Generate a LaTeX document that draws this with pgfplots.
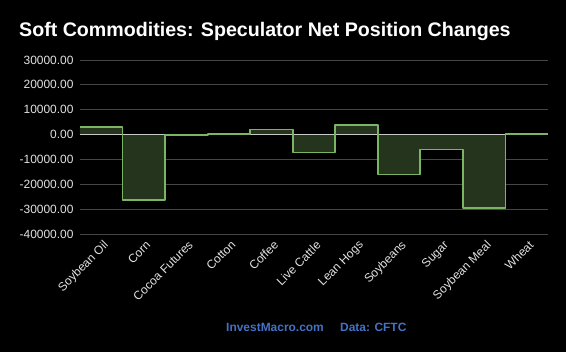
\documentclass[border=0pt]{standalone}
\usepackage{pgfplots}
\pgfplotsset{compat=1.18}
\usepackage{fontspec}
\setmainfont{Liberation Sans}
\definecolor{bgc}{RGB}{0,0,0}
\definecolor{gridc}{RGB}{70,70,70}
\definecolor{zeroc}{RGB}{200,200,200}
\definecolor{linec}{RGB}{122,180,100}
\definecolor{fillc}{RGB}{36,52,29}
\definecolor{bluec}{RGB}{68,114,196}
\definecolor{tickc}{RGB}{225,225,225}
\begin{document}
\begin{tikzpicture}
\fill[bgc] (-80bp,-118bp) rectangle (486bp,234bp);
\begin{axis}[
  at={(0,0)}, anchor=south west,
  scale only axis, width=468bp, height=174bp,
  xmin=-0.5, xmax=10.5, ymin=-40000, ymax=30000,
  ytick={-40000,-30000,...,30000},
  xtick={0,...,10},
  xticklabels={Soybean Oil,Corn,Cocoa Futures,Cotton,Coffee,Live Cattle,Lean Hogs,Soybeans,Sugar,Soybean Meal,Wheat},
  ymajorgrids, grid style={gridc, line width=0.8pt},
  axis line style={draw=none},
  major tick length=0pt,
  /pgf/number format/assume math mode=true,
  yticklabel style={/pgf/number format/fixed, /pgf/number format/fixed zerofill, /pgf/number format/precision=2, /pgf/number format/1000 sep={}, xshift=-3bp},
  ticklabel style={font=\fontsize{12}{14}\selectfont, text=tickc},
  xticklabel style={rotate=45, anchor=north east, inner sep=1bp, yshift=-4bp, xshift=-2bp},
  scaled y ticks=false,
]
\addplot[const plot mark mid, draw=none, fill=fillc] table {
x y
-0.5 3000
0 3000
1 -26400
2 -200
3 300
4 2000
5 -7200
6 3900
7 -16100
8 -6000
9 -29600
10 100
10.5 100
} \closedcycle;
\draw[zeroc, line width=0.8pt] (axis cs:-0.5,0) -- (axis cs:10.5,0);
\addplot[const plot mark mid, draw=linec, line width=1.8pt, line join=round, mark=none] table {
x y
-0.5 3000
0 3000
1 -26400
2 -200
3 300
4 2000
5 -7200
6 3900
7 -16100
8 -6000
9 -29600
10 100
10.5 100
};
\end{axis}
\node[anchor=base west, text=white, font=\fontsize{19.7}{22}\selectfont\bfseries, inner sep=0pt] at (-61bp,197.5bp) {Soft Commodities: Speculator Net Position Changes};
\node[anchor=base west, text=bluec, font=\fontsize{12}{14}\selectfont\bfseries, inner sep=0pt] at (146bp,-97bp) {InvestMacro.com};
\node[anchor=base west, text=bluec, font=\fontsize{12}{14}\selectfont\bfseries, inner sep=0pt] at (260bp,-97bp) {Data: CFTC};
\end{tikzpicture}
\end{document}
